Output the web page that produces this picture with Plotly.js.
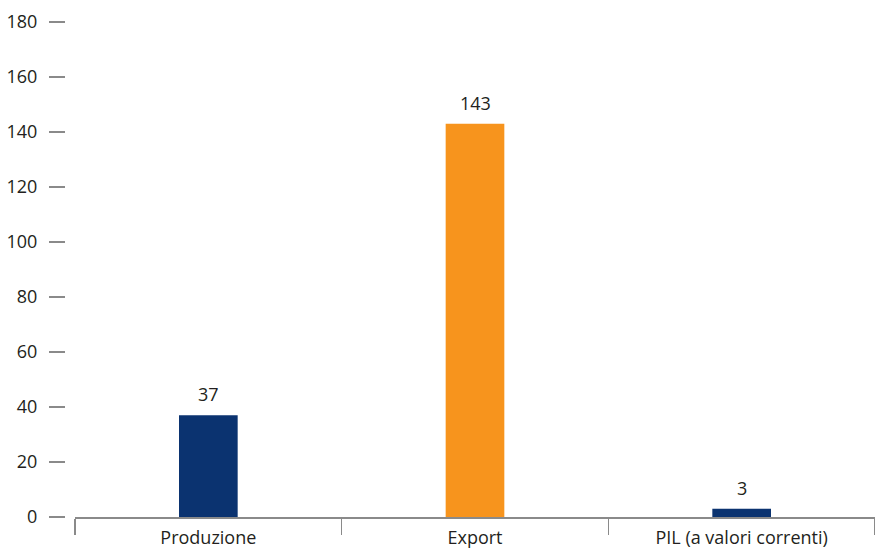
<!DOCTYPE html>
<html><head><meta charset="utf-8">
<script src="https://cdn.plot.ly/plotly-3.0.1.min.js"></script>
<style>html,body{margin:0;padding:0;background:#fff}</style>
</head><body>
<div id="chart" style="width:875px;height:551px"></div>
<script>
const categories = ["Produzione", "Export", "PIL (a valori correnti)"];
const values = [37, 143, 3];
const barColors = ["#0b3370", "#f7941d", "#0b3370"];
const yTicks = [0, 20, 40, 60, 80, 100, 120, 140, 160, 180];

const trace = {
  type: "bar",
  x: categories,
  y: values,
  marker: {color: barColors},
  hoverinfo: "none"
};

const annotations = categories.map((c, i) => ({
  x: c, y: values[i], xref: "x", yref: "y",
  text: String(values[i]), showarrow: false,
  yanchor: "bottom", yshift: 7,
  font: {family: "Open Sans, sans-serif", size: 18, color: "#231f20"}
}));

const layout = {
  width: 875, height: 551,
  margin: {l: 65, r: 0, t: 22, b: 34},
  paper_bgcolor: "#fff", plot_bgcolor: "#fff",
  showlegend: false,
  bargap: 0.78,
  annotations: annotations,
  font: {family: "Open Sans, sans-serif", size: 18, color: "#231f20"},
  xaxis: {
    domain: [10/810, 1],
    type: "category",
    range: [-0.5, 2.5],
    showline: true, linecolor: "#8a8a8a", linewidth: 1.5,
    ticks: "outside", tickson: "boundaries", ticklen: 16, tickwidth: 1.5, tickcolor: "#8a8a8a",
    ticklabelstandoff: 4,
    showgrid: false, zeroline: false,
    tickfont: {size: 18, color: "#231f20"}
  },
  yaxis: {
    anchor: "free", position: 0,
    range: [0, 180],
    tickvals: yTicks,
    ticks: "outside", ticklen: 16, tickwidth: 1.2, tickcolor: "#8a8a8a",
    ticklabelstandoff: 8,
    showline: false, showgrid: false, zeroline: false,
    tickfont: {size: 18, color: "#231f20"}
  }
};

Plotly.newPlot("chart", [trace], layout, {displayModeBar: false, staticPlot: true});
</script>
</body></html>
